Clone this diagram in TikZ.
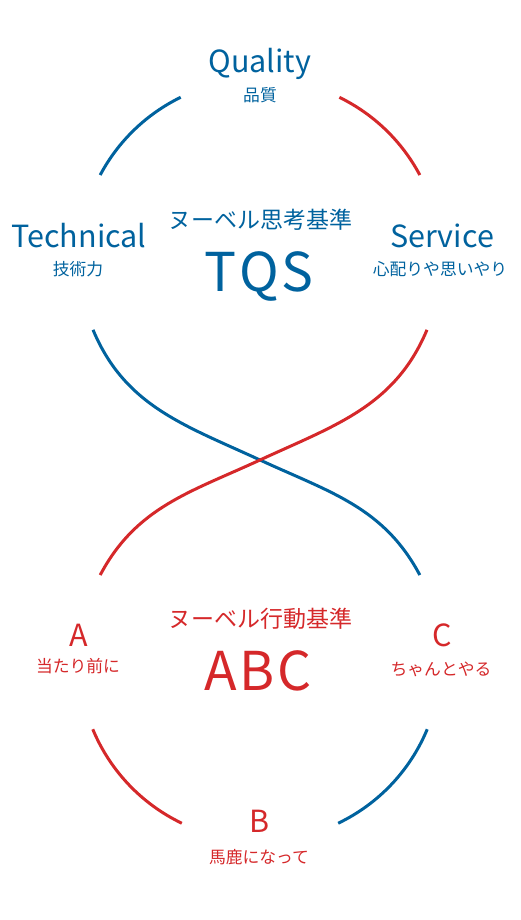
\documentclass[tikz,border=0pt]{standalone}
\usepackage{fontspec}
\setmainfont{Noto Sans CJK JP}
\definecolor{tqsblue}{RGB}{0,98,158}
\definecolor{abcred}{RGB}{213,40,42}
\begin{document}
\begin{tikzpicture}[x=1pt,y=1pt,
  lat/.style={font=\fontsize{30.5}{30}\selectfont, anchor=base, inner sep=0},
  sub/.style={font=\fontsize{16.8}{16}\selectfont, inner sep=0},
  head/.style={font=\fontsize{23}{23}\selectfont, inner sep=0},
  big/.style={font=\fontsize{53.5}{54}\selectfont, anchor=base, inner sep=0},
  curve/.style={line width=3pt}]
\useasboundingbox (0,0) rectangle (520,920);
\coordinate (T) at (260,660);
\coordinate (B) at (260,260);
\coordinate (X) at (260,460);
% top circle arcs
\draw[curve,tqsblue] ([shift={(116:181)}]T) arc[start angle=116,end angle=152,radius=181];
\draw[curve,abcred] ([shift={(64:181)}]T) arc[start angle=64,end angle=28,radius=181];
% crossing
\draw[curve,tqsblue] ([shift={(202.7:181)}]T) to[out=-67.3,in=155.2] (X) to[out=-24.8,in=118] ([shift={(28:181)}]B);
\draw[curve,abcred] ([shift={(-22.7:181)}]T) to[out=-112.7,in=24.8] (X) to[out=204.8,in=62] ([shift={(152:181)}]B);
% bottom circle arcs
\draw[curve,abcred] ([shift={(202.5:181)}]B) arc[start angle=202.5,end angle=244.4,radius=181];
\draw[curve,tqsblue] ([shift={(337.5:181)}]B) arc[start angle=337.5,end angle=295.6,radius=181];
% TQS texts
\begin{scope}[text=tqsblue]
\node[lat] (q) at (260,847) {Quality};
\node[sub] (qj) at (260,825) {品質};
\node[head] (tqsh) at (260,700) {ヌーベル思考基準};
\node[lat] (t) at (79,672) {Technical};
\node[sub] (tj) at (78,651) {技術力};
\node[lat] (s) at (442,672) {Service};
\node[sub] (sj) at (440,651) {心配りや思いやり};
\node[big] (tqs) at (259,628) {T\kern3pt Q\kern3pt S};
\end{scope}
% ABC texts
\begin{scope}[text=abcred]
\node[head] (abch) at (260,301) {ヌーベル行動基準};
\node[lat] (a) at (79,273) {A};
\node[sub] (aj) at (78,254) {当たり前に};
\node[big] (abc) at (258,229) {A\kern3pt B\kern3pt C};
\node[lat] (c) at (442,273) {C};
\node[sub] (cj) at (441,251) {ちゃんとやる};
\node[lat] (b) at (260,87) {B};
\node[sub] (bj) at (259,63) {馬鹿になって};
\end{scope}
\end{tikzpicture}
\end{document}
